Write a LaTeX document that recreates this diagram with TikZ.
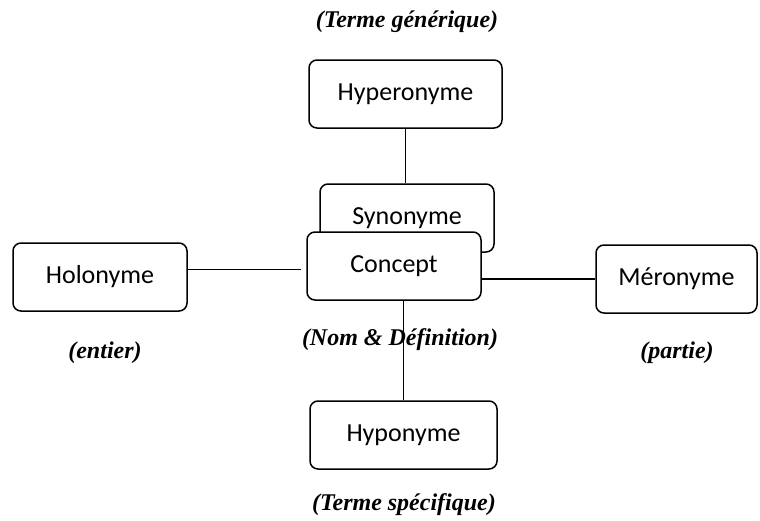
\documentclass[tikz,border=0pt]{standalone}
\usepackage{fontspec}
\setmainfont{Liberation Serif}
\newfontfamily\boxfont{Carlito}

\begin{document}
\begin{tikzpicture}[x=0.5pt, y=-0.5pt, line width=0.75pt]
	\tikzstyle{term}=[draw, rounded corners=4pt, fill=white, minimum height=34pt, inner sep=0pt, font=\boxfont\fontsize{13}{15}\selectfont]
	\tikzstyle{role}=[font=\fontsize{12}{14}\selectfont\bfseries\itshape]
	
	\useasboundingbox (0,0) rectangle (760,520);
	
	% Boxes (synonyme first, concept lies on top of it)
	\node[term, minimum width=96.5pt] (hyper) at (405.5,94)  {Hyperonyme};
	\node[term, minimum width=87pt]   (syn)   at (407,218)   {Synonyme};
	\node[term, minimum width=87pt]   (conc)  at (394,266)   {Concept};
	\node[term, minimum width=87pt]   (holo)  at (100,277)   {Holonyme};
	\node[term, minimum width=80.5pt] (mero)  at (676.5,279) {Méronyme};
	\node[term, minimum width=93.5pt] (hypo)  at (403.5,435) {Hyponyme};
	
	% Links
	\path (hyper.south) edge (hyper.south |- syn.north);
	\path (hypo.north) edge (hypo.north |- conc.south);
	\path (holo.5) edge[shorten >=2.5pt] (holo.5 -| conc.west);
	\path (mero.west) edge (mero.west -| conc.east);
	
	% Roles
	\node[role] (gen) at (407,22)  {(Terme générique)};
	\node[role] (def) at (400,340) {(Nom \& Définition)};
	\node[role] (ent) at (105,353) {(entier)};
	\node[role] (par) at (677,353) {(partie)};
	\node[role] (spe) at (404,505) {(Terme spécifique)};
\end{tikzpicture}
\end{document}
